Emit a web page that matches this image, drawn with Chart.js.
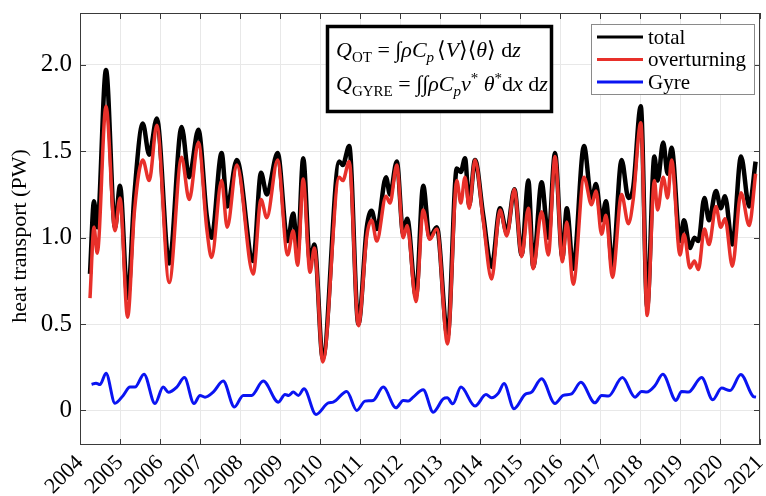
<!DOCTYPE html>
<html>
<head>
<meta charset="utf-8">
<script src="https://cdn.jsdelivr.net/npm/chart.js@4/dist/chart.umd.min.js"></script>
<style>
  html, body { margin: 0; padding: 0; background: #fff; }
  #wrap { width: 766px; height: 496px; position: relative; }
</style>
</head>
<body>
<div id="wrap"><canvas id="chart" width="766" height="496"></canvas></div>
<script>
// Heat transport: total, overturning and gyre components (PW)

// decimal years shared by total and overturning
const years = [
  2004.25, 2004.35, 2004.43, 2004.65, 2004.875, 2005.0, 2005.19, 2005.36, 2005.57, 2005.73,
  2005.92, 2006.23, 2006.54, 2006.73, 2006.96, 2007.17, 2007.29, 2007.54, 2007.68, 2007.92,
  2008.33, 2008.525, 2008.67, 2008.94, 2009.19, 2009.33, 2009.44, 2009.58, 2009.75, 2009.86,
  2010.07, 2010.48, 2010.57, 2010.73, 2010.96, 2011.17, 2011.29, 2011.42, 2011.65, 2011.75,
  2011.92, 2012.08, 2012.18, 2012.4, 2012.58, 2012.74, 2012.92, 2013.19, 2013.42, 2013.52,
  2013.625, 2013.73, 2013.875, 2014.08, 2014.29, 2014.5, 2014.67, 2014.86, 2015.04, 2015.21,
  2015.33, 2015.54, 2015.71, 2015.875, 2016.06, 2016.17, 2016.33, 2016.6, 2016.79, 2016.9,
  2017.04, 2017.15, 2017.31, 2017.54, 2017.71, 2017.83, 2018.02, 2018.18, 2018.36, 2018.44,
  2018.58, 2018.69, 2018.79, 2019.0, 2019.1, 2019.25, 2019.36, 2019.46, 2019.61, 2019.725,
  2019.9, 2020.02, 2020.125, 2020.31, 2020.525, 2020.73, 2020.89
];

const total = [
  0.79, 1.21, 1.06, 1.97, 1.06, 1.30, 0.65, 1.25, 1.66, 1.48,
  1.69, 0.85, 1.64, 1.35, 1.625, 1.125, 1.0, 1.49, 1.18, 1.45,
  0.865, 1.375, 1.25, 1.49, 0.98, 1.14, 0.92, 1.46, 0.86, 0.96,
  0.30, 1.44, 1.42, 1.53, 0.50, 1.06, 1.155, 1.05, 1.35, 1.25,
  1.44, 1.02, 1.11, 0.66, 1.30, 1.0, 1.06, 0.43, 1.40, 1.38,
  1.46, 1.19, 1.45, 1.13, 0.83, 1.17, 1.03, 1.28, 0.90, 1.33,
  0.83, 1.32, 1.0, 1.49, 0.885, 1.17, 0.82, 1.53, 1.22, 1.31,
  1.10, 1.21, 0.835, 1.45, 1.23, 1.29, 1.76, 0.60, 1.47, 1.33,
  1.55, 1.37, 1.52, 0.98, 1.10, 0.94, 1.0, 0.98, 1.23, 1.10,
  1.27, 1.17, 1.24, 0.96, 1.47, 1.18, 1.44
];

const overturning = [
  0.65, 1.06, 0.91, 1.76, 1.04, 1.23, 0.54, 1.15, 1.45, 1.33,
  1.65, 0.74, 1.465, 1.22, 1.55, 1.05, 0.885, 1.33, 1.06, 1.42,
  0.79, 1.22, 1.115, 1.45, 0.90, 1.04, 0.84, 1.34, 0.80, 0.94,
  0.28, 1.35, 1.33, 1.44, 0.49, 1.01, 1.10, 0.98, 1.24, 1.20,
  1.42, 1.0, 1.07, 0.63, 1.16, 0.99, 1.05, 0.385, 1.33, 1.20,
  1.35, 1.17, 1.45, 1.10, 0.76, 1.16, 1.01, 1.28, 0.89, 1.17,
  0.82, 1.15, 0.90, 1.47, 0.86, 1.09, 0.73, 1.35, 1.19, 1.27,
  1.02, 1.13, 0.77, 1.25, 1.08, 1.22, 1.665, 0.55, 1.33, 1.16,
  1.35, 1.23, 1.45, 0.90, 1.02, 0.825, 0.865, 0.815, 1.05, 0.96,
  1.18, 1.06, 1.11, 0.835, 1.26, 1.07, 1.37
];

const gyreYears = [
  2004.29, 2004.4, 2004.5, 2004.65, 2004.875, 2005.08, 2005.25, 2005.375, 2005.6, 2005.875,
  2006.08, 2006.21, 2006.42, 2006.61, 2006.85, 2007.0, 2007.125, 2007.33, 2007.58, 2007.86,
  2008.08, 2008.29, 2008.58, 2008.96, 2009.125, 2009.22, 2009.33, 2009.46, 2009.6, 2009.9,
  2010.21, 2010.33, 2010.67, 2010.92, 2011.125, 2011.33, 2011.58, 2011.9, 2012.08, 2012.21,
  2012.33, 2012.58, 2012.83, 2013.08, 2013.18, 2013.32, 2013.525, 2013.875, 2014.15, 2014.29,
  2014.46, 2014.6, 2014.85, 2015.125, 2015.29, 2015.54, 2015.875, 2016.08, 2016.29, 2016.52,
  2016.875, 2017.04, 2017.21, 2017.56, 2017.875, 2018.04, 2018.17, 2018.375, 2018.57, 2018.9,
  2019.04, 2019.21, 2019.54, 2019.82, 2020.04, 2020.25, 2020.52, 2020.83, 2020.9
];

const gyre = [
  0.15, 0.158, 0.15, 0.215, 0.042, 0.087, 0.135, 0.135, 0.21, 0.04,
  0.135, 0.105, 0.135, 0.19, 0.04, 0.087, 0.077, 0.106, 0.17, 0.02,
  0.087, 0.087, 0.17, 0.048, 0.092, 0.087, 0.106, 0.087, 0.125, -0.023,
  0.044, 0.048, 0.11, 0.0, 0.054, 0.058, 0.135, 0.015, 0.058, 0.054,
  0.077, 0.12, -0.01, 0.067, 0.073, 0.038, 0.135, 0.025, 0.092, 0.073,
  0.1, 0.156, 0.01, 0.092, 0.106, 0.183, 0.04, 0.087, 0.096, 0.163,
  0.044, 0.087, 0.083, 0.19, 0.077, 0.11, 0.106, 0.144, 0.21, 0.058,
  0.11, 0.106, 0.19, 0.062, 0.13, 0.115, 0.208, 0.081, 0.077
];

const yTicks = [0, 0.5, 1.0, 1.5, 2.0];
const seriesLabels = ['total', 'overturning', 'Gyre'];
const seriesColors = ['#000000', '#e8302a', '#0a14f2'];

const SERIF = '"Liberation Serif", "Times New Roman", "DejaVu Serif", serif';

function toPoints(xs, ys) {
  return xs.map((x, i) => ({ x: x, y: ys[i] }));
}

function drawRuns(ctx, x, y, runs) {
  runs.forEach(r => {
    ctx.font = (r.i ? 'italic ' : '') + (r.s || 22) + 'px ' + SERIF;
    ctx.fillText(r.t, x, y + (r.dy || 0));
    x += ctx.measureText(r.t).width + (r.g || 0);
  });
}

// box, inward ticks, formula box and legend
const decorPlugin = {
  id: 'decor',
  afterDraw(chart) {
    const ctx = chart.ctx;
    const a = chart.chartArea;
    const xs = chart.scales.x;
    const ys = chart.scales.y;
    ctx.save();
    ctx.strokeStyle = '#3a3a3a';
    ctx.lineWidth = 1;
    ctx.strokeRect(a.left + 0.5, a.top + 0.5, a.right - a.left - 1, a.bottom - a.top - 1);
    ctx.beginPath();
    for (let yr = 2004; yr <= 2021; yr++) {
      const px = Math.round(xs.getPixelForValue(yr)) + 0.5;
      ctx.moveTo(px, a.bottom); ctx.lineTo(px, a.bottom - 6);
      ctx.moveTo(px, a.top); ctx.lineTo(px, a.top + 6);
    }
    yTicks.forEach(v => {
      const py = Math.round(ys.getPixelForValue(v)) + 0.5;
      ctx.moveTo(a.left, py); ctx.lineTo(a.left + 6, py);
      ctx.moveTo(a.right, py); ctx.lineTo(a.right - 6, py);
    });
    ctx.stroke();

    // y axis title
    ctx.fillStyle = '#000';
    ctx.font = '22px ' + SERIF;
    ctx.textAlign = 'center';
    ctx.textBaseline = 'middle';
    ctx.translate(20, 236);
    ctx.rotate(-Math.PI / 2);
    ctx.fillText('heat transport (PW)', 0, 0);
    ctx.setTransform(1, 0, 0, 1, 0, 0);

    // formula box
    ctx.fillStyle = '#fff';
    ctx.fillRect(326, 25, 227, 88);
    ctx.strokeStyle = '#000';
    ctx.lineWidth = 3.5;
    ctx.strokeRect(327.5, 26.5, 224, 85);
    ctx.fillStyle = '#000';
    ctx.textBaseline = 'alphabetic';
    ctx.textAlign = 'left';
    drawRuns(ctx, 336, 57, [
      { t: 'Q', i: 1 }, { t: 'OT', s: 15, dy: 5 }, { t: ' = ' }, { t: '\u222B' },
      { t: '\u03C1', i: 1 }, { t: 'C', i: 1 }, { t: 'p', i: 1, s: 15, dy: 5, g: 3 },
      { t: '\u27E8' }, { t: 'V', i: 1 }, { t: '\u27E9\u27E8' }, { t: '\u03B8', i: 1 },
      { t: '\u27E9 d' }, { t: 'z', i: 1 }
    ]);
    drawRuns(ctx, 336, 91, [
      { t: 'Q', i: 1 }, { t: 'GYRE', s: 15, dy: 5 }, { t: ' = ' }, { t: '\u222B\u222B' },
      { t: '\u03C1', i: 1 }, { t: 'C', i: 1 }, { t: 'p', i: 1, s: 15, dy: 5 },
      { t: 'v', i: 1 }, { t: '*', s: 15, dy: -8 }, { t: ' \u03B8', i: 1 }, { t: '*', s: 15, dy: -8 },
      { t: 'd' }, { t: 'x', i: 1 }, { t: ' d' }, { t: 'z', i: 1 }
    ]);

    // legend
    ctx.fillStyle = '#fff';
    ctx.fillRect(591, 24, 164, 71);
    ctx.strokeStyle = '#8a8a8a';
    ctx.lineWidth = 1;
    ctx.strokeRect(591.5, 24.5, 163, 70);
    ctx.font = '21px ' + SERIF;
    ctx.textBaseline = 'middle';
    seriesLabels.forEach((lab, i) => {
      const ly = 37 + i * 22.5;
      ctx.strokeStyle = seriesColors[i];
      ctx.lineWidth = 3;
      ctx.beginPath(); ctx.moveTo(597, ly); ctx.lineTo(643, ly); ctx.stroke();
      ctx.fillStyle = '#000';
      ctx.fillText(lab, 648, ly + 1);
    });
    ctx.restore();
  }
};

new Chart(document.getElementById('chart'), {
  type: 'line',
  data: {
    datasets: [
      {
        label: seriesLabels[0], data: toPoints(years, total),
        borderColor: seriesColors[0], borderWidth: 4.5, order: 2
      },
      {
        label: seriesLabels[1], data: toPoints(years, overturning),
        borderColor: seriesColors[1], borderWidth: 3.5, order: 1
      },
      {
        label: seriesLabels[2], data: toPoints(gyreYears, gyre),
        borderColor: seriesColors[2], borderWidth: 3, order: 0
      }
    ]
  },
  options: {
    responsive: false,
    animation: false,
    elements: {
      point: { radius: 0 },
      line: { cubicInterpolationMode: 'monotone', fill: false }
    },
    layout: { padding: { top: 13, right: 6, left: 0, bottom: 0 } },
    plugins: { legend: { display: false }, tooltip: { enabled: false } },
    scales: {
      x: {
        type: 'linear',
        min: 2004, max: 2021,
        afterFit(scale) { scale.height = 51; scale.paddingLeft = 0; scale.paddingRight = 0; },
        grid: { color: '#e8e8e8', drawTicks: false },
        border: { display: false },
        ticks: {
          stepSize: 1, autoSkip: false, maxRotation: 45, minRotation: 45,
          padding: 5, color: '#000',
          font: { family: SERIF, size: 22 },
          callback: v => String(v)
        }
      },
      y: {
        min: -0.2, max: 2.3,
        afterFit(scale) { scale.width = 80; scale.paddingTop = 0; scale.paddingBottom = 0; },
        afterBuildTicks(scale) { scale.ticks = yTicks.map(v => ({ value: v })); },
        grid: { color: '#e8e8e8', drawTicks: false },
        border: { display: false },
        ticks: {
          padding: 8, color: '#000',
          font: { family: SERIF, size: 25 },
          callback: v => (v === 0 ? '0' : v.toFixed(1))
        }
      }
    }
  },
  plugins: [decorPlugin]
});
</script>
</body>
</html>
